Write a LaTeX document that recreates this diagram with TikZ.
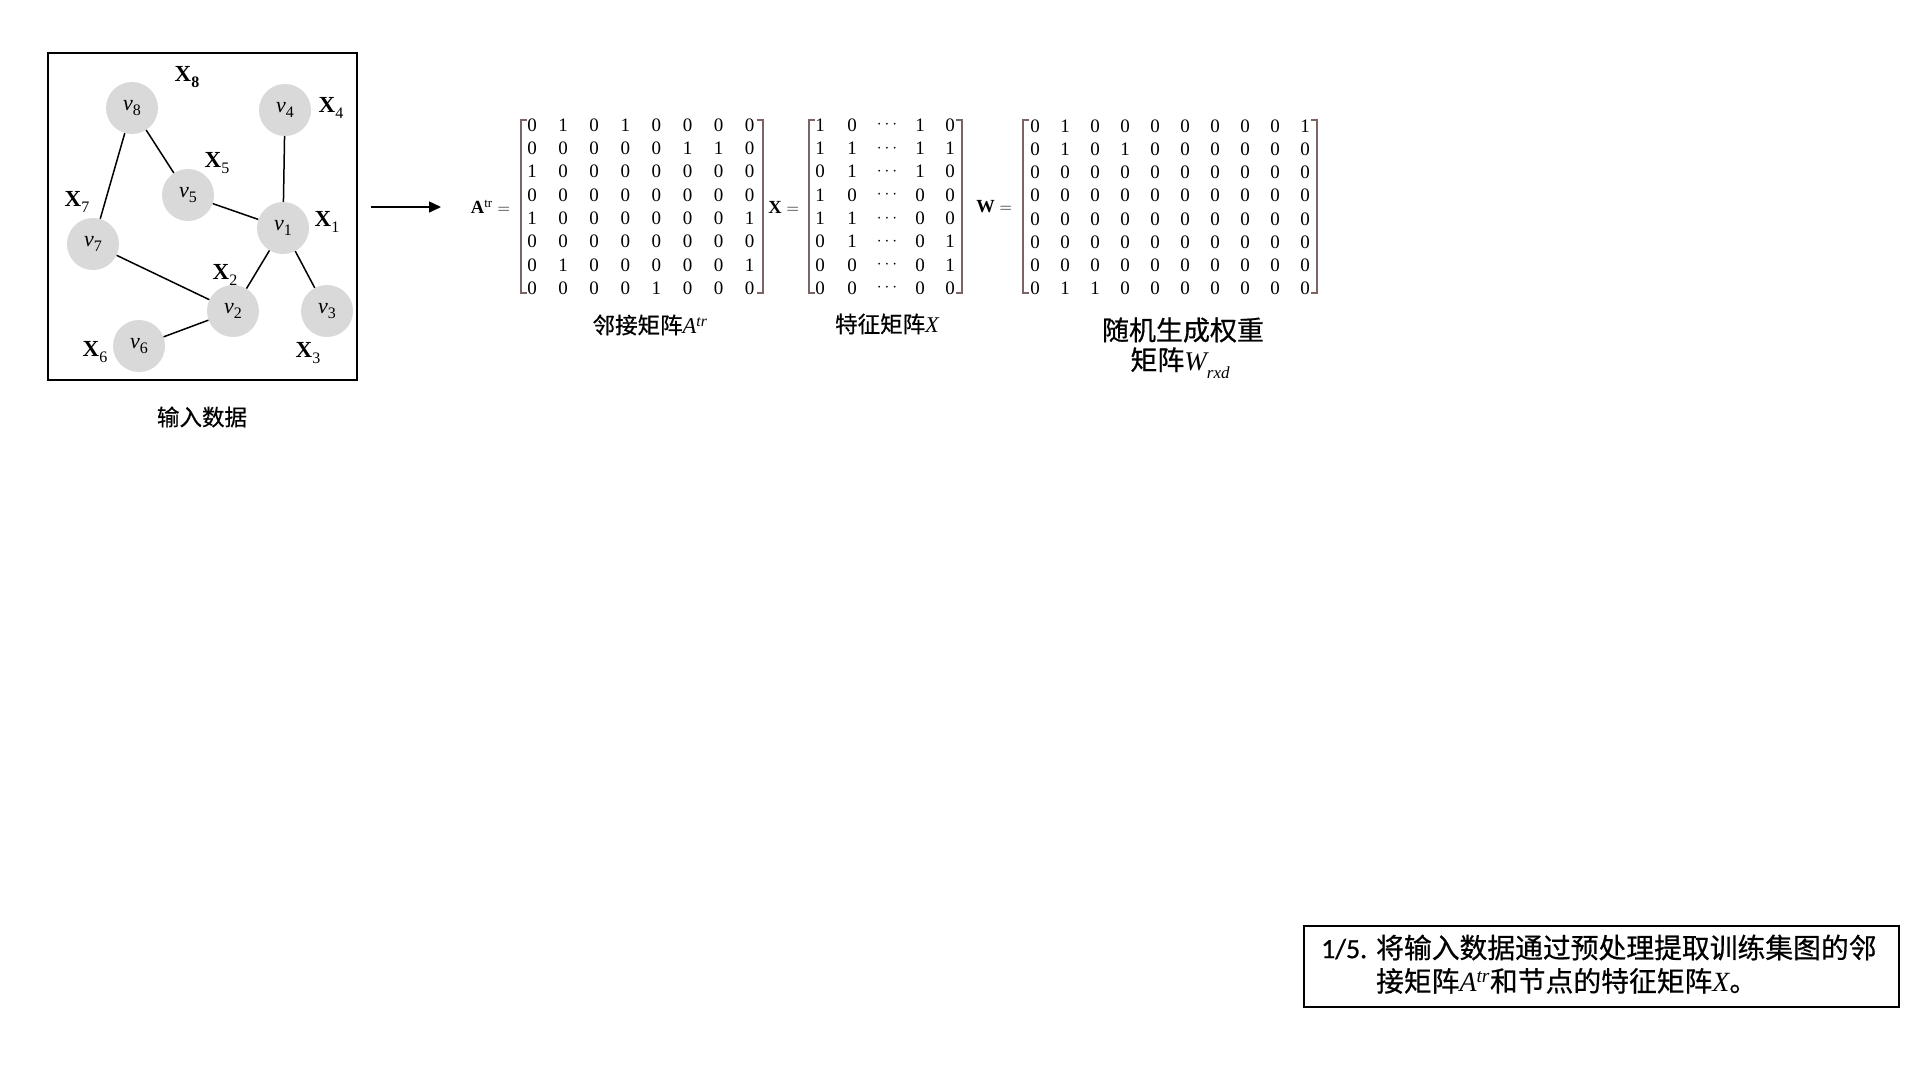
\documentclass[tikz,border=0pt]{standalone}
\usepackage{fontspec}
\setmainfont{Liberation Serif}
\newfontfamily\cjk[FakeBold=0.6]{Noto Sans CJK SC}
\newfontfamily\carl[FakeBold=0.8]{Carlito}
\usetikzlibrary{arrows.meta}
\definecolor{brkcol}{RGB}{125,100,100}
\definecolor{nodegray}{RGB}{217,217,217}
\newcommand\lsub[1]{\raisebox{-0.25em}{\fontsize{16}{16}\selectfont #1}}
\newcommand\itA{{\rmfamily\itshape A}\textsuperscript{\rmfamily\itshape tr}}
\begin{document}
\begin{tikzpicture}[x=1pt,y=-1pt,
  gnode/.style={circle, fill=nodegray, minimum size=52pt, inner sep=0pt, font=\fontsize{22}{22}\selectfont},
  glabel/.style={inner sep=0pt, font=\fontsize{23}{23}\selectfont},
  gedge/.style={line width=1.5pt},
  cell/.style={inner sep=0pt, font=\fontsize{19}{19}\selectfont},
  mlab/.style={inner sep=0pt, anchor=east, font=\fontsize{18.5}{18.5}\selectfont},
  brkline/.style={draw=brkcol, line width=1.6pt},
  captext/.style={inner sep=0pt, font=\cjk\fontsize{22.5}{22.5}\selectfont},
  bigcaptext/.style={inner sep=0pt, font=\cjk\fontsize{27}{27}\selectfont}]
\fill[white] (0,0) rectangle (1920,1080);
\useasboundingbox (0,0) rectangle (1920,1080);

% ---- graph ----
\draw[line width=2pt] (48,53) rectangle (357,380);
\node[gnode] (v8) at (132,108) {{\itshape v}\lsub{8}};
\node[gnode] (v4) at (285,110) {{\itshape v}\lsub{4}};
\node[gnode] (v5) at (188,195) {{\itshape v}\lsub{5}};
\node[gnode] (v1) at (283,228) {{\itshape v}\lsub{1}};
\node[gnode] (v7) at (93,244) {{\itshape v}\lsub{7}};
\node[gnode] (v2) at (233,311) {{\itshape v}\lsub{2}};
\node[gnode] (v3) at (327,311) {{\itshape v}\lsub{3}};
\node[gnode] (v6) at (139,346) {{\itshape v}\lsub{6}};
\draw[gedge] (v8) -- (v7);
\draw[gedge] (v8) -- (v5);
\draw[gedge] (v5) -- (v1);
\draw[gedge] (v4) -- (v1);
\draw[gedge] (v1) -- (v2);
\draw[gedge] (v1) -- (v3);
\draw[gedge] (v7) -- (v2);
\draw[gedge] (v2) -- (v6);
\node[glabel] (x8) at (187,77) {\textbf{X}\lsub{\bfseries 8}};
\node[glabel] (x4) at (331,108) {\textbf{X}\lsub{4}};
\node[glabel] (x5) at (217,163) {\textbf{X}\lsub{5}};
\node[glabel] (x7) at (77,202) {\textbf{X}\lsub{7}};
\node[glabel] (x1) at (327,222) {\textbf{X}\lsub{1}};
\node[glabel] (x2) at (225,275) {\textbf{X}\lsub{2}};
\node[glabel] (x6) at (95,352) {\textbf{X}\lsub{6}};
\node[glabel] (x3) at (308,353) {\textbf{X}\lsub{3}};
\node[captext] (inlab) at (202,417) {输入数据};

% ---- arrow ----
\coordinate (arrS) at (371,207);
\coordinate (arrE) at (441,207);
\draw[line width=1.5pt,-{Triangle[length=12pt,width=11pt]}] (arrS) -- (arrE);

% ---- adjacency matrix ----
\node[mlab] (Alab) at (515,207) {$\mathbf{A}^{\mathrm{tr}} = {}$};
\foreach \row [count=\r] in {{0,1,0,1,0,0,0,0},{0,0,0,0,0,1,1,0},{1,0,0,0,0,0,0,0},{0,0,0,0,0,0,0,0},{1,0,0,0,0,0,0,1},{0,0,0,0,0,0,0,0},{0,1,0,0,0,0,0,1},{0,0,0,0,1,0,0,0}}{
  \foreach \v [count=\c] in \row {
    \node[cell] (A-\r-\c) at ({532+(\c-1)*31.1},{125+(\r-1)*23.3}) {\v};
  }
}
\draw[brkline] (527,120) -- (521,120) -- (521,293) -- (527,293);
\draw[brkline] (757,120) -- (763,120) -- (763,293) -- (757,293);
\node[captext] (capA) at (650,325) {邻接矩阵\itA};

% ---- feature matrix ----
\node[mlab] (Xlab) at (804,207) {$\mathbf{X} = {}$};
\foreach \a/\b/\d/\e [count=\r] in {1/0/1/0,1/1/1/1,0/1/1/0,1/0/0/0,1/1/0/0,0/1/0/1,0/0/0/1,0/0/0/0}{
  \node[cell] (X-\r-1) at (820,{125+(\r-1)*23.3}) {\a};
  \node[cell] (X-\r-2) at (852,{125+(\r-1)*23.3}) {\b};
  \node[cell] (X-\r-3) at (887,{125+(\r-1)*23.3}) {$\cdots$};
  \node[cell] (X-\r-4) at (920,{125+(\r-1)*23.3}) {\d};
  \node[cell] (X-\r-5) at (950,{125+(\r-1)*23.3}) {\e};
}
\draw[brkline] (815,120) -- (809,120) -- (809,293) -- (815,293);
\draw[brkline] (956,120) -- (962,120) -- (962,293) -- (956,293);
\node[captext] (capX) at (887,324) {特征矩阵{\rmfamily\itshape X}};

% ---- weight matrix ----
\node[mlab] (Wlab) at (1017,207) {$\mathbf{W} = {}$};
\foreach \row [count=\r] in {{0,1,0,0,0,0,0,0,0,1},{0,1,0,1,0,0,0,0,0,0},{0,0,0,0,0,0,0,0,0,0},{0,0,0,0,0,0,0,0,0,0},{0,0,0,0,0,0,0,0,0,0},{0,0,0,0,0,0,0,0,0,0},{0,0,0,0,0,0,0,0,0,0},{0,1,1,0,0,0,0,0,0,0}}{
  \foreach \v [count=\c] in \row {
    \node[cell] (W-\r-\c) at ({1035+(\c-1)*30},{126+(\r-1)*23.2}) {\v};
  }
}
\draw[brkline] (1029,120) -- (1023,120) -- (1023,293) -- (1029,293);
\draw[brkline] (1311,120) -- (1317,120) -- (1317,293) -- (1311,293);
\node[bigcaptext] (capW1) at (1183,330) {随机生成权重};
\node[bigcaptext, anchor=base] (capW2) at (1180,370) {矩阵{\rmfamily\itshape W}\raisebox{-0.3em}{\fontsize{17}{17}\selectfont\rmfamily\itshape rxd}};

% ---- note box ----
\draw[line width=2pt] (1304,926) rectangle (1899,1007);
\node[anchor=west, inner sep=0pt, font=\fontsize{27.8}{33}\selectfont] (note) at (1321,968) {\begin{tabular}{@{}l@{\hspace{9pt}}l@{}}{\carl 1/5.} & {\cjk 将输入数据通过预处理提取训练集图的邻}\\ & {\cjk 接矩阵}\itA{\cjk 和节点的特征矩阵}{\rmfamily\itshape X}{\cjk 。}\end{tabular}};
\end{tikzpicture}
\end{document}
